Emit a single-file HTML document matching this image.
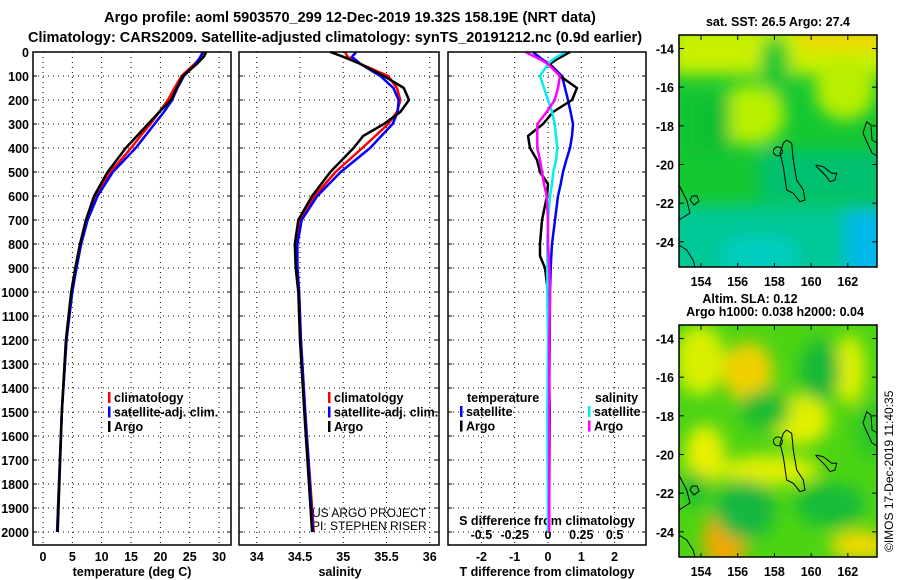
<!DOCTYPE html>
<html><head><meta charset="utf-8"><style>
html,body{margin:0;padding:0;background:#fff;}
svg{display:block;font-family:"Liberation Sans",sans-serif;font-weight:bold;}
</style></head><body>
<svg id="c" width="900" height="580" viewBox="0 0 900 580">
<defs>
<filter id="bl" x="-20%" y="-20%" width="140%" height="140%"><feGaussianBlur stdDeviation="8"/></filter>
<clipPath id="m1"><rect x="679" y="35" width="198" height="232"/></clipPath>
<clipPath id="m2"><rect x="679" y="325" width="198" height="232"/></clipPath>
</defs>
<text x="350" y="22" font-size="14.5" text-anchor="middle">Argo profile: aoml 5903570_299 12-Dec-2019 19.32S 158.19E (NRT data)</text>
<text x="335" y="42" font-size="14.5" text-anchor="middle">Climatology: CARS2009. Satellite-adjusted climatology: synTS_20191212.nc (0.9d earlier)</text>
<!-- Map 1 -->
<g clip-path="url(#m1)">
<rect x="679" y="35" width="198" height="232" fill="#14c832"/>
<g filter="url(#bl)">
<rect x="670" y="25" width="220" height="50" fill="#c8f000"/>
<rect x="800" y="25" width="90" height="25" fill="#f0d800"/>
<ellipse cx="775" cy="70" rx="15" ry="35" fill="#18c830"/>
<ellipse cx="750" cy="115" rx="35" ry="30" fill="#b8f000"/>
<ellipse cx="845" cy="90" rx="30" ry="30" fill="#b8ee00"/>
<rect x="690" y="95" width="40" height="60" fill="#10c030"/>
<rect x="670" y="205" width="230" height="80" fill="#00c896"/>
<ellipse cx="760" cy="255" rx="40" ry="20" fill="#00cdc0"/>
<rect x="845" y="210" width="50" height="70" fill="#00b8e8"/>
<rect x="760" y="150" width="130" height="50" fill="#04c070"/>
</g>
</g>
<rect x="679" y="35" width="198" height="232" fill="none" stroke="#000" stroke-width="1.5"/>
<text x="778" y="26" font-size="12.5" text-anchor="middle">sat. SST: 26.5 Argo: 27.4</text>
<!-- Map 2 -->
<g clip-path="url(#m2)">
<rect x="679" y="325" width="198" height="232" fill="#4cd414"/>
<g filter="url(#bl)">
<ellipse cx="700" cy="360" rx="25" ry="35" fill="#d8f000"/>
<ellipse cx="748" cy="372" rx="25" ry="30" fill="#f0d000"/>
<ellipse cx="800" cy="420" rx="30" ry="25" fill="#e0f000"/>
<ellipse cx="850" cy="370" rx="15" ry="35" fill="#e0f000"/>
<ellipse cx="770" cy="470" rx="50" ry="15" fill="#e0f000"/>
<ellipse cx="725" cy="540" rx="22" ry="30" fill="#f0a800"/>
<ellipse cx="705" cy="455" rx="20" ry="30" fill="#e8f000"/>
<ellipse cx="860" cy="545" rx="30" ry="15" fill="#f0d800"/>
<ellipse cx="820" cy="370" rx="20" ry="30" fill="#18b838"/>
<ellipse cx="765" cy="410" rx="25" ry="20" fill="#1cbc30"/>
<ellipse cx="745" cy="510" rx="30" ry="30" fill="#14b840"/>
<ellipse cx="830" cy="505" rx="35" ry="22" fill="#18bc38"/>
<ellipse cx="870" cy="430" rx="15" ry="30" fill="#2cc828"/>
<ellipse cx="695" cy="490" rx="15" ry="18" fill="#20c030"/>
</g>
</g>
<rect x="679" y="325" width="198" height="232" fill="none" stroke="#000" stroke-width="1.5"/>
<text x="750" y="303" font-size="12.5" text-anchor="middle">Altim. SLA: 0.12</text>
<text x="775" y="316" font-size="12.5" text-anchor="middle">Argo h1000: 0.038 h2000: 0.04</text>
<text transform="translate(893,552) rotate(-90)" font-size="12" font-weight="normal">©IMOS 17-Dec-2019 11:40:35</text>
<text x="312" y="517" font-size="12" font-weight="normal">US ARGO PROJECT</text>
<text x="312" y="530" font-size="12" font-weight="normal">PI: STEPHEN RISER</text>
<g id="g"></g>
</svg>
<script>
// ---- data ----
const depthA = [0,20,50,100,150,200,250,300,350,400,500,600,700,800,900,1000,1200,1500,2000];
const tempArgo = [27.8,27.4,26.2,23.8,22.8,21.8,19.8,17.9,16.0,14.1,11.0,8.7,7.3,6.3,5.5,4.8,3.9,3.2,2.5];
const tempClim = [27.3,27.0,25.8,23.6,22.4,21.3,19.8,18.3,16.6,15.0,11.5,9.0,7.5,6.4,5.6,4.9,4.0,3.2,2.4];
const tempSat  = [27.2,26.8,26.0,24.0,22.9,22.0,20.6,19.0,17.4,15.8,11.9,9.3,7.6,6.5,5.7,5.0,4.0,3.2,2.4];
const salArgo = [34.85,35.0,35.2,35.47,35.7,35.76,35.66,35.47,35.23,35.12,34.85,34.64,34.48,34.44,34.45,34.48,34.5,34.55,34.64];
const salClim = [35.02,35.05,35.2,35.52,35.62,35.66,35.62,35.52,35.37,35.22,34.91,34.67,34.5,34.46,34.47,34.49,34.51,34.56,34.66];
const salSat  = [35.15,35.1,35.2,35.43,35.58,35.64,35.63,35.57,35.44,35.31,34.97,34.7,34.52,34.47,34.47,34.49,34.51,34.56,34.65];
const depthD = [0,30,50,100,150,200,250,300,350,400,450,500,550,600,700,800,850,900,1000,1200,1500,2000];
const tDiffArgo = [0.66,0.27,0.05,0.36,0.87,0.72,0.15,-0.15,-0.6,-0.54,-0.33,-0.24,0.0,-0.03,-0.18,-0.24,-0.24,-0.09,0.0,0.02,0.05,0.03];
const tDiffSat  = [-0.45,-0.18,0.05,0.42,0.51,0.6,0.68,0.75,0.72,0.66,0.55,0.45,0.38,0.3,0.21,0.12,0.1,0.08,0.06,0.05,0.03,0.02];
const sDiffSat  = [0.13,0.04,0.0,-0.06,-0.03,0.0,0.03,0.05,0.06,0.07,0.06,0.04,0.03,0.015,0.0,-0.005,-0.005,-0.005,-0.005,0.0,-0.005,0.0];
const sDiffArgo = [-0.17,-0.06,0.0,0.09,0.075,0.05,-0.01,-0.08,-0.08,-0.08,-0.06,-0.045,-0.03,-0.01,0.0,0.0,0.005,0.01,0.015,0.01,0.01,0.01];
const depthTicks = [0,100,200,300,400,500,600,700,800,900,1000,1100,1200,1300,1400,1500,1600,1700,1800,1900,2000];
const tempTicks = [0,5,10,15,20,25,30];
const salTicks = [34,34.5,35,35.5,36];
const tDiffTicks = [-2,-1,0,1,2];
const sDiffTicks = [-0.5,-0.25,0,0.25,0.5];
const lonTicks = [154,156,158,160,162];
const latTicks = [-14,-16,-18,-20,-22,-24];

const NS='http://www.w3.org/2000/svg';
const g=document.getElementById('g');
function mk(tag,attrs,parent){const e=document.createElementNS(NS,tag);for(const k in attrs)e.setAttribute(k,attrs[k]);(parent||g).appendChild(e);return e;}
const yD=d=>52+0.24*d;
const xT=v=>43+5.87*v;
const xS=v=>300+86.5*(v-34.5);
const xDT=v=>548+33.3*v;
const xDS=v=>548+133.2*v;
const TOP=52,BOT=545;
const panels=[[33,231,'temperature-panel'],[239,439,'salinity-panel'],[448,646,'difference-panel']];

function grid(x0,x1,xs,fx){
  depthTicks.forEach(d=>{const l=mk('line',{x1:x0,x2:x1,y1:yD(d),y2:yD(d),stroke:'#000','stroke-width':1,'stroke-dasharray':'1 4'});
    
    
    mk('line',{x1:x0,x2:x0+4,y1:yD(d),y2:yD(d),stroke:'#000'});mk('line',{x1:x1-4,x2:x1,y1:yD(d),y2:yD(d),stroke:'#000'});});
  xs.forEach(v=>{const l=mk('line',{x1:fx(v),x2:fx(v),y1:TOP,y2:BOT,stroke:'#000','stroke-width':1,'stroke-dasharray':'1 4'});
    
    });
}
function line(ds,vs,fx,col,name){
  const p=mk('polyline',{points:ds.map((d,i)=>fx(vs[i]).toFixed(1)+','+yD(d).toFixed(1)).join(' '),fill:'none',stroke:col,'stroke-width':2.5,'stroke-linejoin':'round'});
  
  
}
function txt(x,y,s,size,anchor,name){const t=mk('text',{x:x,y:y,'font-size':size,'text-anchor':anchor||'start'});t.textContent=s;
  
  return t;}

grid(33,231,tempTicks,xT);
grid(239,439,salTicks,xS);
grid(448,646,tDiffTicks,xDT);
depthTicks.forEach(d=>txt(29,yD(d)+5,String(d),12.5,'end','depth-tick-label'));
tempTicks.forEach(v=>txt(xT(v),561,String(v),12.5,'middle','temp-tick-label'));
salTicks.forEach(v=>txt(xS(v),561,String(v),12.5,'middle','sal-tick-label'));
tDiffTicks.forEach(v=>txt(xDT(v),561,String(v),12.5,'middle','tdiff-tick-label'));
sDiffTicks.forEach(v=>txt(xDS(v),539,String(v),12.5,'middle','sdiff-tick-label'));
txt(132,576,'temperature (deg C)',12.5,'middle','temp-axis-title');
txt(340,576,'salinity',12.5,'middle','sal-axis-title');
txt(547,576,'T difference from climatology',12.5,'middle','tdiff-axis-title');
txt(547,525,'S difference from climatology',12.5,'middle','sdiff-axis-title');

line(depthA,tempClim,xT,'#f00','temp-climatology-line');
line(depthA,tempSat,xT,'#00f','temp-satellite-line');
line(depthA,tempArgo,xT,'#000','temp-argo-line');
line(depthA,salClim,xS,'#f00','sal-climatology-line');
line(depthA,salSat,xS,'#00f','sal-satellite-line');
line(depthA,salArgo,xS,'#000','sal-argo-line');
line(depthD,tDiffSat,xDT,'#00f','tdiff-satellite-line');
line(depthD,tDiffArgo,xDT,'#000','tdiff-argo-line');
line(depthD,sDiffSat,xDS,'#0ee','sdiff-satellite-line');
line(depthD,sDiffArgo,xDS,'#f0f','sdiff-argo-line');

panels.forEach(p=>{const r=mk('rect',{x:p[0],y:TOP,width:p[1]-p[0],height:BOT-TOP,fill:'none',stroke:'#000','stroke-width':1.5});
  
  });

function legend(x,y,items,name){items.forEach((it,i)=>{mk('rect',{x:x,y:y+i*14.5-10,width:2.5,height:11,fill:it[1]});
  txt(x+6,y+i*14.5,it[0],12.5,'start',name);});}
legend(108,402,[['climatology','#f00'],['satellite-adj. clim.','#00f'],['Argo','#000']],'temp-legend-entry');
legend(328,402,[['climatology','#f00'],['satellite-adj. clim.','#00f'],['Argo','#000']],'sal-legend-entry');
txt(467,402,'temperature',12.5,'start','tdiff-legend-title');
legend(460,416,[['satellite','#00f'],['Argo','#000']],'tdiff-legend-entry');
txt(595,402,'salinity',12.5,'start','sdiff-legend-title');
legend(588,416,[['satellite','#0ee'],['Argo','#f0f']],'sdiff-legend-entry');

// maps
const mx=lon=>679+(lon-152.8)*18.35;
const my=(lat,off)=>35+off+(-13.3-lat)*19.33;
[0,290].forEach((off,k)=>{
  const bot=off?557:267;
  lonTicks.forEach(v=>{txt(mx(v),bot+19,String(v),12.5,'middle','map-lon-label');
    mk('line',{x1:mx(v),x2:mx(v),y1:35+off,y2:40+off,stroke:'#000'});mk('line',{x1:mx(v),x2:mx(v),y1:bot-4,y2:bot,stroke:'#000'});});
  latTicks.forEach(v=>{txt(674,my(v,off)+5,String(v),12.5,'end','map-lat-label');
    mk('line',{x1:679,x2:684,y1:my(v,off),y2:my(v,off),stroke:'#000'});mk('line',{x1:872,x2:877,y1:my(v,off),y2:my(v,off),stroke:'#000'});});
  const coasts=[
    [[786.7,140],[791.7,143.3],[793.3,160],[796.7,180],[803.3,190],[805,200],[800,201.7],[793.3,193.3],[786.7,190],[783.3,166.7],[780,153.3],[783.3,143.3],[786.7,140]],
    [[877,143],[872,140],[871,125],[866.7,121.7],[863,133],[866,140],[872,153],[877,156]],
    [[815.7,165],[823.3,166.7],[831.7,173.3],[836.7,173.3],[835,180],[830,181.7],[825,175],[816.7,166.7],[815.7,165]],
    [[679,185],[683,193],[686.7,200],[690,213],[679,220]],
    [[679,245],[686.7,250],[693,260],[695,267]],
    [[692,196],[697,196],[699,201],[694,205],[690,200],[692,196]]
  ];
  coasts.forEach(c=>{const p=mk('polyline',{points:c.map(q=>q[0]+','+(q[1]+off)).join(' '),fill:'none',stroke:'#000','stroke-width':1});
    
    });
  const c=mk('circle',{cx:mx(158.19),cy:my(-19.32,off),r:4.5,fill:'none',stroke:'#000','stroke-width':1});
  
  
});
</script>
</body></html>
